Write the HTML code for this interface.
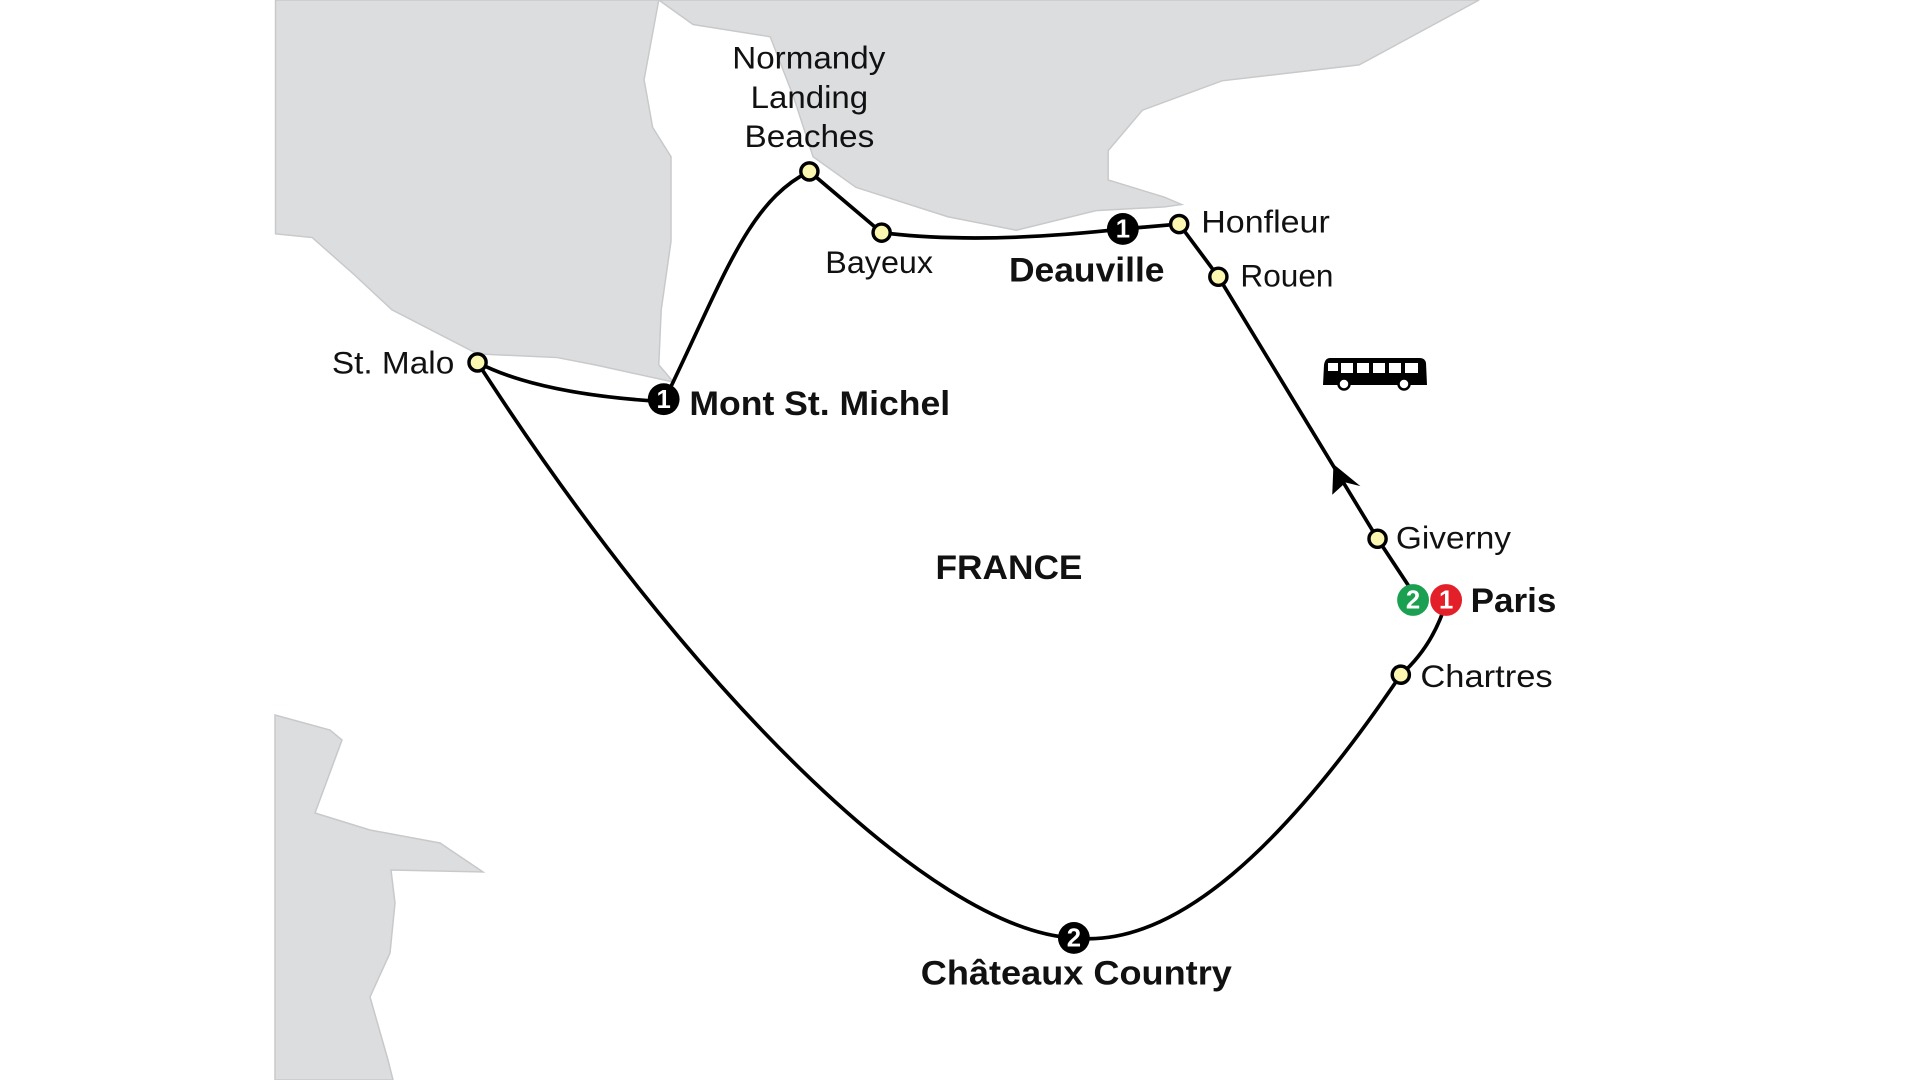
<!DOCTYPE html>
<html><head><meta charset="utf-8"><style>
html,body{margin:0;padding:0;background:#fff;width:1920px;height:1080px;overflow:hidden}
svg{display:block}
text{font-family:"Liberation Sans",sans-serif;fill:#111}
</style></head><body>
<svg width="1920" height="1080" viewBox="0 0 1920 1080">
<polygon points="275,715 330,730 342,740 315,813 370,830 440,843 483,872 391,870 395,903 390,953 370,997 388,1060 393,1080 275,1080" fill="#dcdddf" stroke="#c8c9cb" stroke-width="1.5"/>
<g transform="scale(1.22449)">
<polygon points="225,0 538,0 526,65 533,104 548,128 548,197 540,253 538,298 550,312 486,298 455,292 390,289 320,253 290,225 255,194 225,191" fill="#dcdddf" stroke="#c8c9cb" stroke-width="1.2"/>
<polygon points="538,0 566,20 629,30 648,79 664,128 699,153 774,177 830,188 895,172 951,169 965,167 951,161 905,147 905,123 933,90 998,66 1110,53 1208,0" fill="#dcdddf" stroke="#c8c9cb" stroke-width="1.2"/>
<g fill="none" stroke="#000" stroke-width="3" stroke-linecap="round">
<path d="M390,296 Q440,322 542,328"/>
<path d="M542,328 C590,230 610,165 661,140"/>
<path d="M661,140 L720,190"/>
<path d="M720,190 Q800,200 917,187 L963,183"/>
<path d="M963,183 L995,226 L1125,440 L1158,490"/>
<path d="M1181,492 Q1170,528 1144,551"/>
<path d="M1144,551 C1050,690 960,775 877,766"/>
<path d="M877,766 C760,760 560,560 390,296"/>
</g>
<polygon points="1089,379 1111,397 1099,394 1088,404" fill="#000"/>
<g fill="#fbf6b0" stroke="#000" stroke-width="2.8">
<circle cx="390" cy="296" r="7"/><circle cx="661" cy="140" r="7"/><circle cx="720" cy="190" r="7"/>
<circle cx="963" cy="183" r="7"/><circle cx="995" cy="226" r="7"/><circle cx="1125" cy="440" r="7"/><circle cx="1144" cy="551" r="7"/>
</g>
<g font-weight="bold" font-size="21" text-anchor="middle">
<circle cx="542" cy="326" r="13" fill="#000"/><text x="542" y="333" style="fill:#fff">1</text>
<circle cx="917" cy="187" r="13" fill="#000"/><text x="917" y="194" style="fill:#fff">1</text>
<circle cx="877" cy="766" r="13" fill="#000"/><text x="877" y="773" style="fill:#fff">2</text>
<circle cx="1154" cy="490" r="13" fill="#1aa050"/><text x="1154" y="497" style="fill:#fff">2</text>
<circle cx="1181" cy="490" r="13" fill="#e3202a"/><text x="1181" y="497" style="fill:#fff">1</text>
</g>
<g font-size="26">
<text x="598" y="56" textLength="125" lengthAdjust="spacingAndGlyphs">Normandy</text>
<text x="613" y="88" textLength="96" lengthAdjust="spacingAndGlyphs">Landing</text>
<text x="608" y="120" textLength="106" lengthAdjust="spacingAndGlyphs">Beaches</text>
<text x="674" y="223" textLength="88" lengthAdjust="spacingAndGlyphs">Bayeux</text>
<text x="981" y="190" textLength="105" lengthAdjust="spacingAndGlyphs">Honfleur</text>
<text x="1013" y="234" textLength="76" lengthAdjust="spacingAndGlyphs">Rouen</text>
<text x="271" y="305" textLength="100" lengthAdjust="spacingAndGlyphs">St. Malo</text>
<text x="1140" y="448" textLength="94" lengthAdjust="spacingAndGlyphs">Giverny</text>
<text x="1160" y="561" textLength="108" lengthAdjust="spacingAndGlyphs">Chartres</text>
</g>
<g font-size="28" font-weight="bold">
<text x="824" y="230" textLength="127" lengthAdjust="spacingAndGlyphs">Deauville</text>
<text x="563" y="339" textLength="213" lengthAdjust="spacingAndGlyphs">Mont St. Michel</text>
<text x="764" y="473" textLength="120" lengthAdjust="spacingAndGlyphs">FRANCE</text>
<text x="1201" y="500" textLength="70" lengthAdjust="spacingAndGlyphs">Paris</text>
<text x="752" y="804" textLength="254" lengthAdjust="spacingAndGlyphs">Châteaux Country</text>
</g>
</g>
<g>
<path d="M1326,358 L1420,358 Q1425,358 1426,363 L1427,385 L1323,385 L1324,365 Q1325,358 1330,358 Z" fill="#000"/>
<g fill="#fff"><rect x="1328" y="363" width="10" height="8"/><rect x="1341" y="363" width="12" height="10"/><rect x="1357" y="363" width="12" height="10"/><rect x="1373" y="363" width="12" height="10"/><rect x="1389" y="363" width="12" height="10"/><rect x="1405" y="363" width="13" height="10"/></g>
<circle cx="1344" cy="384" r="5.5" fill="#fff" stroke="#000" stroke-width="2.5"/>
<circle cx="1404" cy="384" r="5.5" fill="#fff" stroke="#000" stroke-width="2.5"/>
</g>
</svg>
</body></html>
